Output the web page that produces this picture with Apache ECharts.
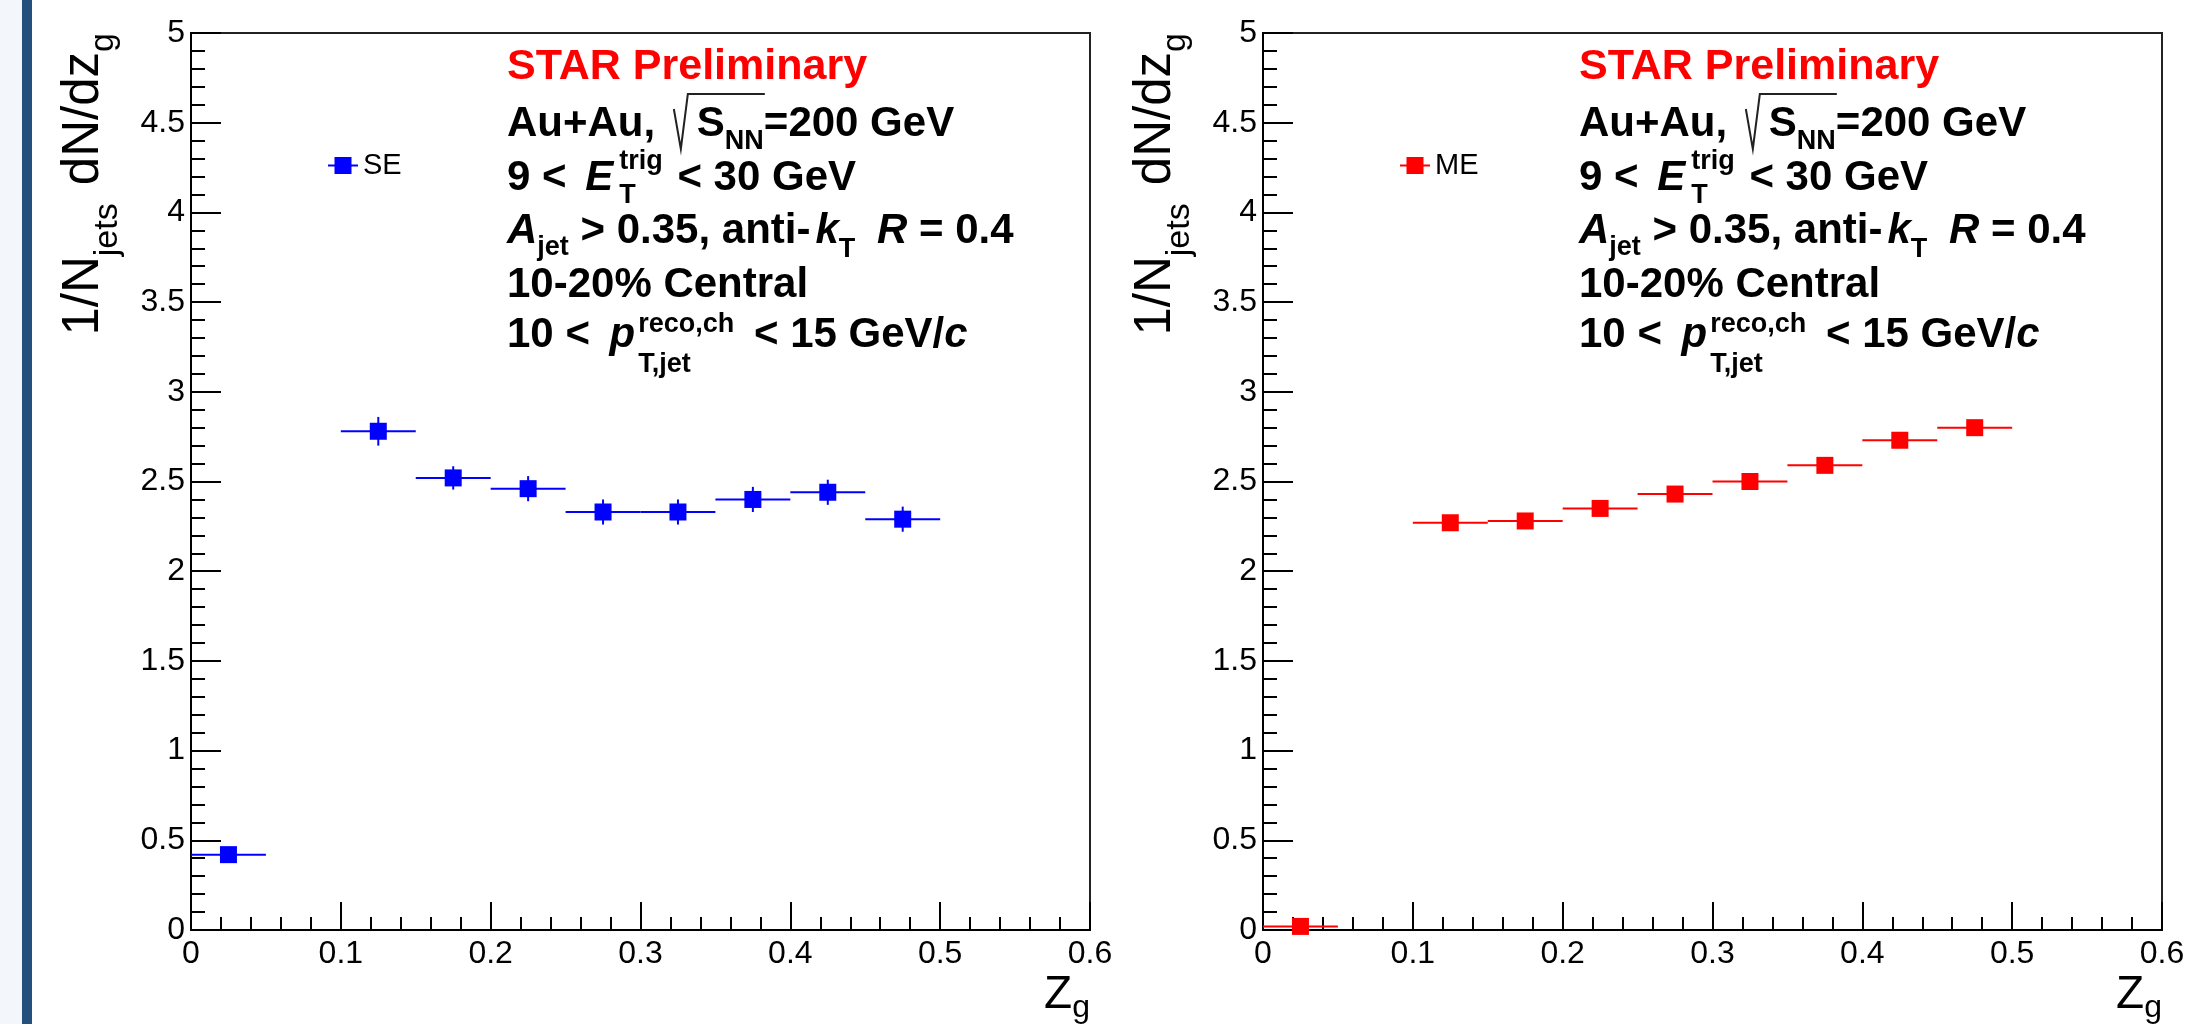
<!DOCTYPE html>
<html>
<head>
<meta charset="utf-8">
<script src="https://cdn.jsdelivr.net/npm/echarts@6/dist/echarts.min.js"></script>
<style>
  html, body { margin: 0; padding: 0; background: #fff; }
  #chart { width: 2187px; height: 1024px; }
</style>
</head>
<body>
<div id="chart"></div>
<script>
// z_g bin centres, bins are 0.05 wide
const zgCenters = [0.025, 0.125, 0.175, 0.225, 0.275, 0.325, 0.375, 0.425, 0.475];
const zgHalfBin = 0.025;
// same-event distribution (SE)
const seValues = [0.42, 2.78, 2.52, 2.46, 2.33, 2.33, 2.40, 2.44, 2.29];
const seErrors = [0.03, 0.08, 0.065, 0.07, 0.07, 0.07, 0.07, 0.07, 0.07];
// mixed-event distribution (ME)
const meValues = [0.02, 2.27, 2.28, 2.35, 2.43, 2.50, 2.59, 2.73, 2.80];
const meErrors = [0.01, 0.03, 0.03, 0.03, 0.03, 0.03, 0.03, 0.03, 0.03];
// axis ranges
const xRange = [0, 0.6], xStep = 0.1;
const yRange = [0, 5], yStep = 0.5;

const FAMILY = '"Liberation Sans", Arial, Helvetica, sans-serif';

// panel layout (pixels)
const panels = [
  { name: 'SE', color: '#0000ff', values: seValues, errors: seErrors, left: 191 },
  { name: 'ME', color: '#ff0000', values: meValues, errors: meErrors, left: 1263 }
];
const PLOT_TOP = 33, PLOT_W = 899, PLOT_H = 897;

// text block in each panel, laid out segment by segment
const infoLines = [
  { y: 82,  segs: [{ t: 'STAR Preliminary', color: '#ff0000', size: 43 }] },
  { y: 139, segs: [{ t: 'Au+Au, ' }, { t: 'S', gap: 30, radStart: true }, { t: 'NN', size: 27, dy: 12, radEnd: true }, { t: '=200 GeV' }] },
  { y: 193, segs: [{ t: '9 < ' }, { t: 'E', it: true, gap: 7 }, { t: 'trig', size: 27, dy: -22, gap: 6, under: { t: 'T', size: 27, dy: 12 } }, { t: ' < 30 GeV', gap: 3 }] },
  { y: 246, segs: [{ t: 'A', it: true }, { t: 'jet', size: 27, dy: 11 }, { t: ' > 0.35, anti-' }, { t: 'k', it: true, gap: 5 }, { t: 'T', size: 27, dy: 13 }, { t: ' ', gap: 10 }, { t: 'R', it: true }, { t: ' = 0.4' }] },
  { y: 300, segs: [{ t: '10-20% Central' }] },
  { y: 350, segs: [{ t: '10 < ' }, { t: 'p', it: true, gap: 8 }, { t: 'reco,ch', size: 27, dy: -16, gap: 3, under: { t: 'T,jet', size: 27, dy: 24 } }, { t: ' < 15 GeV/', gap: 8 }, { t: 'c', it: true }] }
];
const yTitleSegs = [{ t: '1/N' }, { t: 'jets', size: 34, dy: 18 }, { t: ' dN/dz', gap: 4 }, { t: 'g', size: 34, dy: 14 }];
const xTitleSegs = [{ t: 'Z' }, { t: 'g', size: 32, dy: 8 }];

const measureCtx = document.createElement('canvas').getContext('2d');
function fontOf(seg, base) {
  const size = seg.size || base.size;
  const bold = seg.bold !== undefined ? seg.bold : base.bold;
  return (seg.it ? 'italic ' : '') + (bold ? 'bold ' : '') + size + 'px ' + FAMILY;
}
function textWidth(t, font) {
  measureCtx.font = font;
  return measureCtx.measureText(t).width;
}

// returns text elements for a line whose baseline is at y0
function layoutLine(segs, x0, y0, base) {
  const placed = [];
  let x = 0, radStart = null, radEnd = null;
  segs.forEach(seg => {
    x += seg.gap || 0;
    const font = fontOf(seg, base);
    let w = textWidth(seg.t, font);
    placed.push({ seg, x, font });
    if (seg.under) {
      const uf = fontOf(seg.under, base);
      placed.push({ seg: seg.under, x, font: uf });
      w = Math.max(w, textWidth(seg.under.t, uf));
    }
    if (seg.radStart) radStart = x;
    x += w;
    if (seg.radEnd) radEnd = x;
  });
  const shift = base.alignRight ? -x : 0;
  const els = placed.map(p => {
    const size = p.seg.size || base.size;
    return {
      type: 'text',
      x: x0 + shift + p.x,
      y: y0 + (p.seg.dy || 0) - 0.35 * size,
      style: {
        text: p.seg.t, font: p.font, fill: p.seg.color || base.color,
        align: 'left', verticalAlign: 'middle', textAlign: 'left', textVerticalAlign: 'middle'
      }
    };
  });
  if (radStart !== null) {
    const rx = x0 + shift + radStart;
    els.push({
      type: 'polyline',
      shape: { points: [[rx - 23, y0 - 30], [rx - 16, y0 + 10], [rx - 9, y0 - 45], [x0 + shift + radEnd + 1, y0 - 45]] },
      style: { stroke: '#222', lineWidth: 2, fill: null }
    });
  }
  return els;
}

function renderBin(params, api) {
  const z = api.value(0), v = api.value(1), err = api.value(2);
  const l = api.coord([z - zgHalfBin, v]);
  const r = api.coord([z + zgHalfBin, v]);
  const hi = api.coord([z, v + err]);
  const lo = api.coord([z, v - err]);
  const c = api.coord([z, v]);
  const color = api.visual('color');
  const m = 17;
  return {
    type: 'group',
    children: [
      { type: 'line', shape: { x1: l[0], y1: l[1], x2: r[0], y2: r[1] }, style: { stroke: color, lineWidth: 2 } },
      { type: 'line', shape: { x1: hi[0], y1: hi[1], x2: lo[0], y2: lo[1] }, style: { stroke: color, lineWidth: 2 } },
      { type: 'rect', shape: { x: c[0] - m / 2, y: c[1] - m / 2, width: m, height: m }, style: { fill: color } }
    ]
  };
}

const chart = echarts.init(document.getElementById('chart'));

const graphics = [
  { type: 'rect', shape: { x: 0, y: 0, width: 22, height: 1024 }, style: { fill: '#f3f6fa' } },
  { type: 'rect', shape: { x: 22, y: 0, width: 10, height: 1024 }, style: { fill: '#24507d' } }
];
panels.forEach(p => {
  const textX = p.left + 316;
  const kids = [];
  infoLines.forEach(line => {
    kids.push(...layoutLine(line.segs, textX, line.y, { size: 42, bold: true, color: '#000' }));
  });
  kids.push(...layoutLine(xTitleSegs, p.left + PLOT_W, 1011, { size: 46, bold: false, color: '#000', alignRight: true }));
  graphics.push({ type: 'group', x: 0, y: 0, children: kids });
  graphics.push({
    type: 'group', x: p.left - 89, y: PLOT_TOP, rotation: Math.PI / 2,
    children: layoutLine(yTitleSegs, 0, 0, { size: 51, bold: false, color: '#000', alignRight: true })
  });
});

const option = {
  animation: false,
  backgroundColor: '#fff',
  grid: panels.map(p => ({
    left: p.left, top: PLOT_TOP, width: PLOT_W, height: PLOT_H,
    show: true, borderColor: '#222', borderWidth: 2, backgroundColor: 'transparent',
    outerBoundsMode: 'none'
  })),
  xAxis: panels.map((p, i) => ({
    gridIndex: i, type: 'value', min: xRange[0], max: xRange[1], interval: xStep,
    axisLine: { onZero: false, lineStyle: { color: '#000', width: 2 } },
    axisTick: { inside: true, length: 28, lineStyle: { color: '#000', width: 2 } },
    minorTick: { show: true, splitNumber: 5, length: 13, lineStyle: { color: '#000', width: 2 } },
    splitLine: { show: false },
    axisLabel: { color: '#000', fontSize: 32, fontFamily: FAMILY, margin: 8 }
  })),
  yAxis: panels.map((p, i) => ({
    gridIndex: i, type: 'value', min: yRange[0], max: yRange[1], interval: yStep,
    axisLine: { onZero: false, lineStyle: { color: '#000', width: 2 } },
    axisTick: { inside: true, length: 30, lineStyle: { color: '#000', width: 2 } },
    minorTick: { show: true, splitNumber: 5, length: 14, lineStyle: { color: '#000', width: 2 } },
    splitLine: { show: false },
    axisLabel: { color: '#000', fontSize: 32, fontFamily: FAMILY, margin: 6 }
  })),
  legend: panels.map(p => ({
    data: [p.name], left: p.left + 137, top: 151, padding: 0, selectedMode: false,
    icon: 'path://M0,7.5h30v2h-30zM6.5,0h17v17h-17z', itemWidth: 30, itemHeight: 17,
    textStyle: { color: '#000', fontSize: 29, fontFamily: FAMILY }
  })),
  graphic: graphics,
  series: panels.map((p, i) => ({
    name: p.name, type: 'custom', xAxisIndex: i, yAxisIndex: i, clip: false,
    itemStyle: { color: p.color },
    renderItem: renderBin,
    encode: { x: 0, y: 1 },
    data: zgCenters.map((z, k) => [z, p.values[k], p.errors[k]])
  }))
};
chart.setOption(option);
</script>
</body>
</html>
